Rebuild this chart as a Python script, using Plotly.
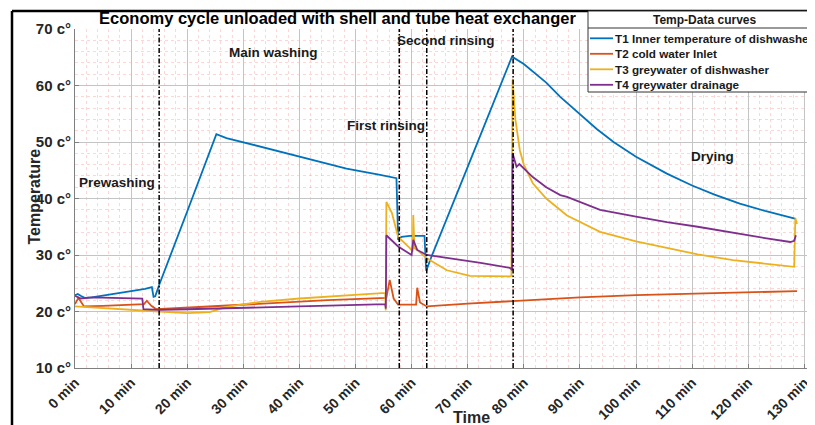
import plotly.graph_objects as go

# ---------------- data ----------------
t1_time = [0, 0.5, 1, 1.8, 3, 5, 8, 11, 12.5, 13.7, 14.0, 14.3, 15, 20, 25.2, 27, 30.6, 36.5, 42.5,
           48.4, 54.4, 57.3, 57.6, 58.2, 59.7, 62.3, 62.6, 63.5, 70, 77.9, 80, 82, 84, 86.5,
           90, 93.0, 96, 100, 105.5, 110, 114, 118.5, 123, 128, 128.5]
t1_vals = [22.9, 23.1, 22.8, 22.4, 22.5, 22.8, 23.3, 23.7, 24.0, 24.3, 22.6, 22.7, 24.7, 37.7, 51.4, 50.7,
           49.8, 48.3, 46.8, 45.3, 44.2, 43.6, 32.7, 33.2, 33.4, 33.4, 27.2, 29.6, 45.6, 65.1, 63.8,
           62.2, 60.5, 58.0, 54.9, 52.3, 50.0, 47.4, 44.4, 42.3, 40.7, 39.1, 37.8, 36.6, 36.4]

t2_time = [0, 0.6, 1.0, 1.6, 5, 10, 12.3, 12.8, 13.6, 14.5, 20, 27, 36.5, 45, 55.5, 56.1, 56.8,
           57.6, 60.8, 61.0, 61.5, 62.7, 70, 81, 90, 100, 111.4, 120, 128.7]
t2_vals = [21.3, 22.4, 21.8, 20.9, 21.0, 21.2, 21.3, 21.9, 21.0, 20.4, 20.7, 21.0, 21.6, 22.0, 22.4,
           25.6, 22.3, 21.2, 21.2, 24.2, 21.6, 20.9, 21.4, 22.0, 22.5, 22.9, 23.2, 23.4, 23.6]

t3_time = [0, 3, 8, 12, 15, 20, 24, 27, 30, 33, 40, 45, 50, 55.3, 55.4, 55.5, 56.5, 57.6, 59.7,
           60.2, 60.3, 60.5, 61.0, 62.7, 66.3, 70.4, 77.5, 77.8, 78.0, 78.5, 79.3, 80, 81.6, 84,
           87.7, 93.6, 100, 105.5, 111, 117.3, 123, 127.5, 128.2, 128.4, 128.7]
t3_vals = [20.9, 20.7, 20.4, 20.2, 20.0, 19.7, 19.9, 20.8, 21.3, 21.7, 22.3, 22.6, 22.9, 23.3, 20.2,
           39.4, 37.4, 33.2, 31.2, 30.6, 37.1, 31.2, 30.9, 29.4, 27.3, 26.3, 26.2, 26.3, 61.0, 54.0,
           48.5, 46.0, 42.7, 40.0, 37.0, 34.1, 32.4, 31.2, 30.1, 29.1, 28.5, 28.0, 27.9, 36.5, 35.5]

t4_time = [0, 1, 3, 6, 10, 12.0, 12.2, 15, 20, 25, 33, 40, 47, 55.3, 55.4, 55.5, 57.6, 60.0,
           60.3, 61.0, 62.7, 66.3, 72.3, 77.6, 77.9, 78.0, 78.7, 79.2, 80, 81.6, 84, 86.5, 87.7,
           93.6, 100, 105.5, 111, 117.3, 123, 127.5, 128.2, 128.5]
t4_vals = [22.8, 22.3, 22.5, 22.4, 22.3, 22.3, 20.4, 20.3, 20.4, 20.5, 20.7, 20.9, 21.1, 21.3, 20.5,
           33.5, 31.5, 30.0, 32.7, 30.9, 30.0, 29.5, 28.6, 27.7, 27.3, 48.0, 45.6, 46.1, 45.3, 43.8,
           42.0, 40.6, 40.3, 38.0, 36.8, 35.8, 35.0, 33.9, 33.0, 32.3, 32.5, 33.5]

series_names = ["T1 Inner temperature of dishwasher", "T2 cold water Inlet",
                "T3 greywater of dishwasher", "T4 greywater drainage"]
series_colors = ["#0072BD", "#D95319", "#EDB120", "#7E2F8E"]
legend_title = "Temp-Data curves"

phase_boundaries = [15, 57.8, 62.7, 78.1]
phase_names = ["Prewashing", "Main washing", "First rinsing", "Second rinsing", "Drying"]
phase_label_x = [7.5, 35.3, 55.4, 66.1, 113.7]
phase_label_y = [42.9, 65.9, 53.0, 67.9, 47.5]

x_tickvals = list(range(0, 131, 10))
x_ticktext = [f"{v} min" for v in x_tickvals]
y_tickvals = list(range(10, 71, 10))
y_ticktext = [f"{v} c°" for v in y_tickvals]

# ---------------- layout geometry ----------------
FONT = "Liberation Sans, Arial, sans-serif"
OFF = 8                      # default page body margin
W, H = 815 - OFF, 425 - OFF
PLOT_L, PLOT_R, PLOT_T, PLOT_B = 75, 815, 29, 368   # plot area in page pixels
ML, MR, MT, MB = PLOT_L - OFF, 0, PLOT_T - OFF, H - (PLOT_B - OFF)
PW, PH = PLOT_R - PLOT_L, PLOT_B - PLOT_T


def pxx(px):
    return (px - PLOT_L) / PW


def pxy(py):
    return (PLOT_B - py) / PH


fig = go.Figure()
for tt, vv, name, col in zip([t1_time, t2_time, t3_time, t4_time],
                             [t1_vals, t2_vals, t3_vals, t4_vals],
                             series_names, series_colors):
    fig.add_trace(go.Scatter(x=tt, y=vv, mode="lines", name=name, showlegend=False,
                             line=dict(color=col, width=1.8)))

for xb in phase_boundaries:
    fig.add_vline(x=xb, line=dict(color="black", width=1.5, dash="5px,2px,1.5px,2px"))

for name, lx, ly in zip(phase_names, phase_label_x, phase_label_y):
    fig.add_annotation(x=lx, y=ly, text=name, showarrow=False,
                       font=dict(family=FONT, size=13.5, color="#1a1a1a", weight="bold"))

# axis titles
fig.add_annotation(xref="paper", yref="paper", x=pxx(471), y=pxy(417),
                   text="Time", showarrow=False, yanchor="middle",
                   font=dict(family=FONT, size=16, color="#262626", weight="bold"))
fig.add_annotation(xref="paper", yref="paper", x=pxx(23), y=pxy(197),
                   text="Temperature", showarrow=False, textangle=-90,
                   font=dict(family=FONT, size=16, color="#262626", weight="bold"))

# figure frame
fig.add_shape(type="line", xref="paper", yref="paper",
              x0=pxx(12), x1=pxx(12), y0=pxy(11), y1=pxy(440),
              line=dict(color="black", width=2.5))
fig.add_shape(type="line", xref="paper", yref="paper",
              x0=pxx(12), x1=pxx(830), y0=pxy(11), y1=pxy(11),
              line=dict(color="black", width=2.5))

# legend box (drawn)
LG_L, LG_T, LG_B = 588, 11, 92
fig.add_shape(type="rect", xref="paper", yref="paper",
              x0=pxx(LG_L), x1=pxx(840), y0=pxy(LG_B), y1=pxy(LG_T),
              fillcolor="white", line=dict(color="#333333", width=1))
fig.add_shape(type="line", xref="paper", yref="paper",
              x0=pxx(LG_L), x1=pxx(840), y0=pxy(28), y1=pxy(28),
              line=dict(color="#333333", width=1))
fig.add_annotation(xref="paper", yref="paper", x=pxx(704), y=pxy(20), text=legend_title,
                   showarrow=False, xanchor="center", yanchor="middle",
                   font=dict(family=FONT, size=12, color="#1a1a1a", weight="bold"))
legend_row_y = [38.3, 53.8, 69.3, 84.8]
for name, col, ry in zip(series_names, series_colors, legend_row_y):
    fig.add_shape(type="line", xref="paper", yref="paper",
                  x0=pxx(590), x1=pxx(613), y0=pxy(ry), y1=pxy(ry),
                  line=dict(color=col, width=1.8))
    fig.add_annotation(xref="paper", yref="paper", x=pxx(613), y=pxy(ry), text=name,
                       showarrow=False, xanchor="left", yanchor="middle",
                       font=dict(family=FONT, size=11.7, color="#1a1a1a", weight="bold"))

axis_common = dict(
    showgrid=True, gridcolor="#c4c4c4", gridwidth=1,
    showline=True, linecolor="#7f7f7f", linewidth=1,
    ticks="inside", ticklen=4, tickcolor="#7f7f7f",
    zeroline=False,
    minor=dict(dtick=2, showgrid=True, gridcolor="rgba(255,120,120,0.3)", griddash="dot", gridwidth=1),
)

fig.update_layout(
    width=W, height=H,
    margin=dict(l=ML, r=MR, t=MT, b=MB, autoexpand=False),
    paper_bgcolor="white", plot_bgcolor="white",
    title=dict(text="Economy cycle unloaded with shell and tube heat exchanger",
               x=pxx(337.5), xref="paper", xanchor="center",
               y=1 - (18 - OFF) / H, yref="container", yanchor="middle",
               font=dict(family=FONT, size=16.5, color="black", weight="bold")),
    xaxis=dict(range=[0, PW / 5.61], tickvals=x_tickvals, ticktext=x_ticktext, tickangle=-45,
               tickfont=dict(family=FONT, size=14, color="#262626", weight="bold"),
               **axis_common),
    yaxis=dict(range=[10, 70], tickvals=y_tickvals, ticktext=y_ticktext,
               tickfont=dict(family=FONT, size=15, color="#262626", weight="bold"),
               **axis_common),
    showlegend=False,
)

fig.write_html("out.html")
